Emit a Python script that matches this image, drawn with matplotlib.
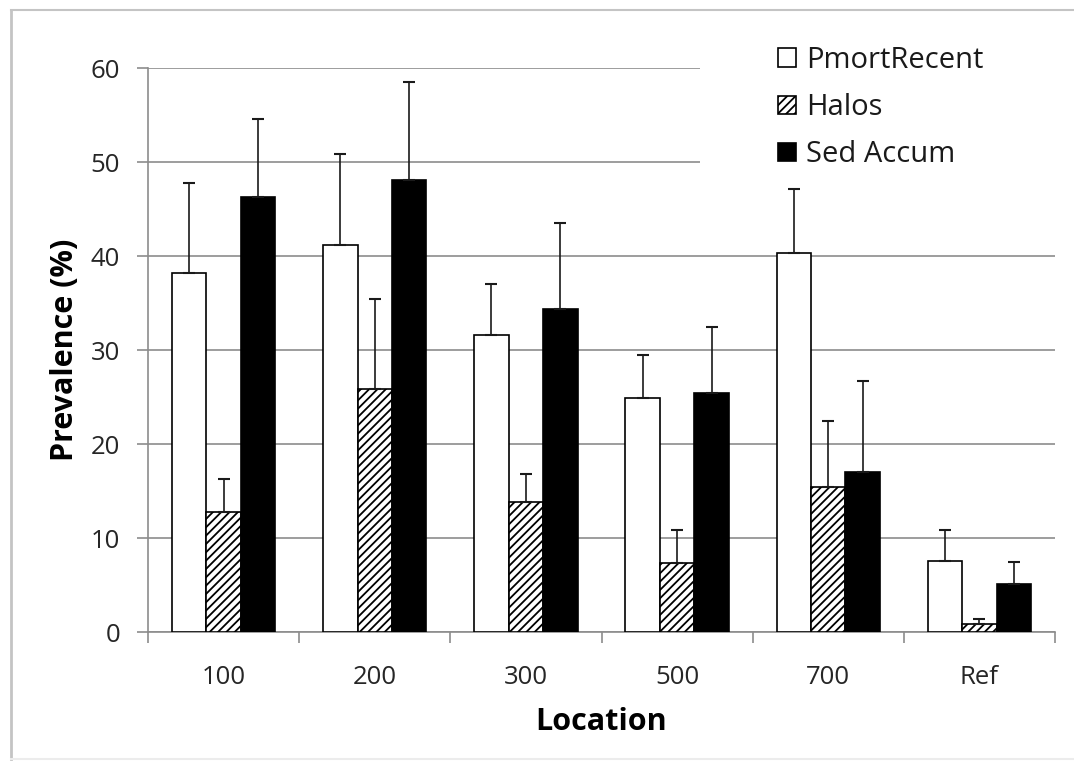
import matplotlib

matplotlib.use("Agg")
import matplotlib.pyplot as plt
import numpy as np
from matplotlib.lines import Line2D
from matplotlib.patches import Rectangle

locations = ["100", "200", "300", "500", "700", "Ref"]
series = ["PmortRecent", "Halos", "Sed Accum"]

pmort = [38.2, 41.2, 31.6, 24.9, 40.3, 7.6]
pmort_err = [9.6, 9.6, 5.4, 4.6, 6.8, 3.3]
halos = [12.8, 25.9, 13.8, 7.3, 15.4, 0.8]
halos_err = [3.5, 9.5, 3.0, 3.6, 7.0, 0.6]
sed = [46.3, 48.1, 34.4, 25.4, 17.0, 5.1]
sed_err = [8.3, 10.4, 9.1, 7.0, 9.7, 2.3]

plt.rcParams["font.family"] = ["Open Sans", "DejaVu Sans"]
plt.rcParams["hatch.linewidth"] = 1.3
plt.rcParams["hatch.color"] = "black"

fig = plt.figure(figsize=(10.74, 7.61), dpi=100)
ax = fig.add_axes([148 / 1074, 1 - 632 / 761, 907 / 1074, 564 / 761])

x = np.arange(len(locations))
width = 0.228
grid_color = "#8c8c8c"
text_color = "#262626"

styles = [
    dict(color="white", edgecolor="black", hatch=None),
    dict(color="white", edgecolor="black", hatch="////"),
    dict(color="black", edgecolor="black", hatch=None),
]
values = [pmort, halos, sed]
errors = [pmort_err, halos_err, sed_err]

for i, (vals, errs, st) in enumerate(zip(values, errors, styles)):
    ax.bar(
        x + (i - 1) * width,
        vals,
        width,
        yerr=[np.zeros(len(errs)), errs],
        capsize=4,
        error_kw=dict(ecolor="#1a1a1a", elinewidth=1.2, capthick=1.5),
        linewidth=1.2,
        label=series[i],
        zorder=3,
        **st,
    )

ax.set_ylim(0, 60)
ax.set_xlim(-0.5, len(locations) - 0.5)
ax.set_yticks(np.arange(0, 61, 10))
ax.yaxis.grid(True, color=grid_color, linewidth=1.2, zorder=0)
ax.set_axisbelow(True)

# category ticks sit on the group boundaries, labels in the centre
ax.set_xticks(np.arange(-0.5, len(locations), 1.0))
ax.set_xticklabels([])
ax.set_xticks(x, minor=True)
ax.set_xticklabels(locations, minor=True)
ax.tick_params(axis="x", which="minor", length=0, pad=24, labelsize=18.5)
ax.tick_params(axis="x", which="major", length=8, color=grid_color, width=1.2)
ax.tick_params(axis="y", length=8, color=grid_color, width=1.2, pad=12, labelsize=18.5)
for lbl in ax.get_yticklabels():
    lbl.set_color(text_color)
for lbl in ax.get_xticklabels(minor=True):
    lbl.set_color(text_color)

for side in ["top", "right"]:
    ax.spines[side].set_visible(False)
for side in ["left", "bottom"]:
    ax.spines[side].set_color(grid_color)
    ax.spines[side].set_linewidth(1.2)

ax.set_ylabel("Prevalence (%)", fontsize=22, fontweight="bold", labelpad=8)
ax.set_xlabel("Location", fontsize=22, fontweight="bold", labelpad=12)

# white legend area hiding the upper gridlines
ax.add_patch(
    Rectangle((0.609, 0.815), 0.40, 0.2, transform=ax.transAxes,
              facecolor="white", edgecolor="none", zorder=1, clip_on=False)
)
leg = ax.legend(
    loc="upper left",
    bbox_to_anchor=(778 / 1074, 1 - 46 / 761),
    bbox_transform=fig.transFigure,
    frameon=False,
    fontsize=21,
    handlelength=0.6,
    handleheight=0.6,
    handletextpad=0.35,
    labelspacing=0.62,
    borderaxespad=0,
    borderpad=0,
)
leg.set_zorder(5)
for t in leg.get_texts():
    t.set_color("#1a1a1a")

# light frame around the picture
fig.add_artist(Line2D([11 / 1074, 11 / 1074], [1 - 10 / 761, 1 - 759 / 761],
                      transform=fig.transFigure, color="#c4c4c4", linewidth=2))
fig.add_artist(Line2D([11 / 1074, 1.0], [1 - 10 / 761, 1 - 10 / 761],
                      transform=fig.transFigure, color="#c4c4c4", linewidth=1.5))
fig.add_artist(Line2D([11 / 1074, 1.0], [1 - 759 / 761, 1 - 759 / 761],
                      transform=fig.transFigure, color="#ececec", linewidth=1.5))

fig.savefig("out.png", dpi=100)
